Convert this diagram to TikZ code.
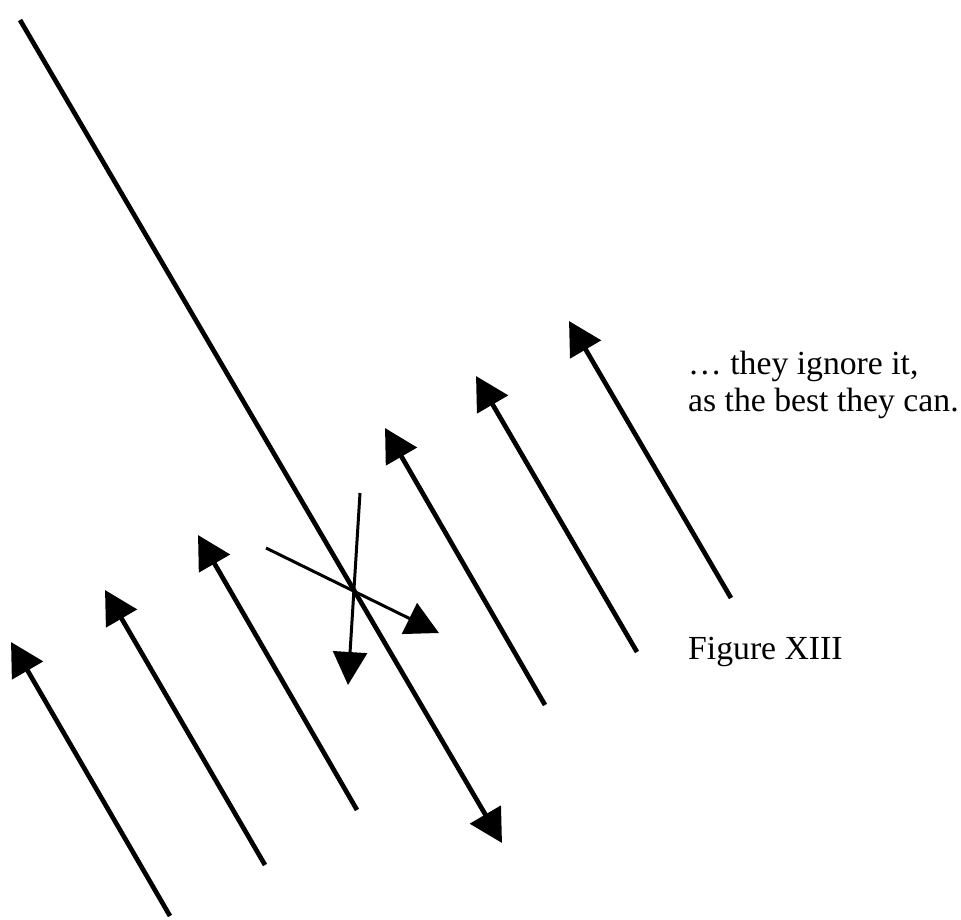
\documentclass[tikz,border=0pt]{standalone}
\usepackage{fontspec}
\setmainfont{Liberation Serif}
\usetikzlibrary{arrows.meta}
\begin{document}
\begin{tikzpicture}[x=1pt,y=-1pt,
  thick line/.style={line width=4.7pt,-{Triangle[length=33pt,width=35pt]}},
  thin line/.style={line width=3pt,-{Triangle[length=33pt,width=34pt]}},
  caption/.style={font=\fontsize{33.7}{37}\selectfont,anchor=base west,inner sep=0pt}]
\useasboundingbox (0,0) rectangle (961,920);
% long line pointing down
\coordinate (L0) at (20,20);
\coordinate (L1) at (502,843);
\draw[thick line] (L0) -- (L1);
% upward arrows
\foreach \i/\bx/\by/\tx/\ty in {1/170/916/11/642, 2/265/865/105/590, 3/357/810/198/535, 4/545/705/385/428, 5/637/652/476/376, 6/731/598/569/321}{
  \coordinate (b\i) at (\bx,\by);
  \coordinate (t\i) at (\tx,\ty);
  \draw[thick line] (b\i) -- (t\i);
}
% crossing arrows
\coordinate (c1s) at (266,548);
\coordinate (c1e) at (439,633);
\coordinate (c2s) at (360,493);
\coordinate (c2e) at (348,685);
\draw[thin line] (c1s) -- (c1e);
\draw[thin line] (c2s) -- (c2e);
% texts
\node[caption] (txt1) at (688,374) {… they ignore it,};
\node[caption] (txt2) at (688,411) {as the best they can.};
\node[caption] (fig) at (688,659) {Figure XIII};
\end{tikzpicture}
\end{document}
